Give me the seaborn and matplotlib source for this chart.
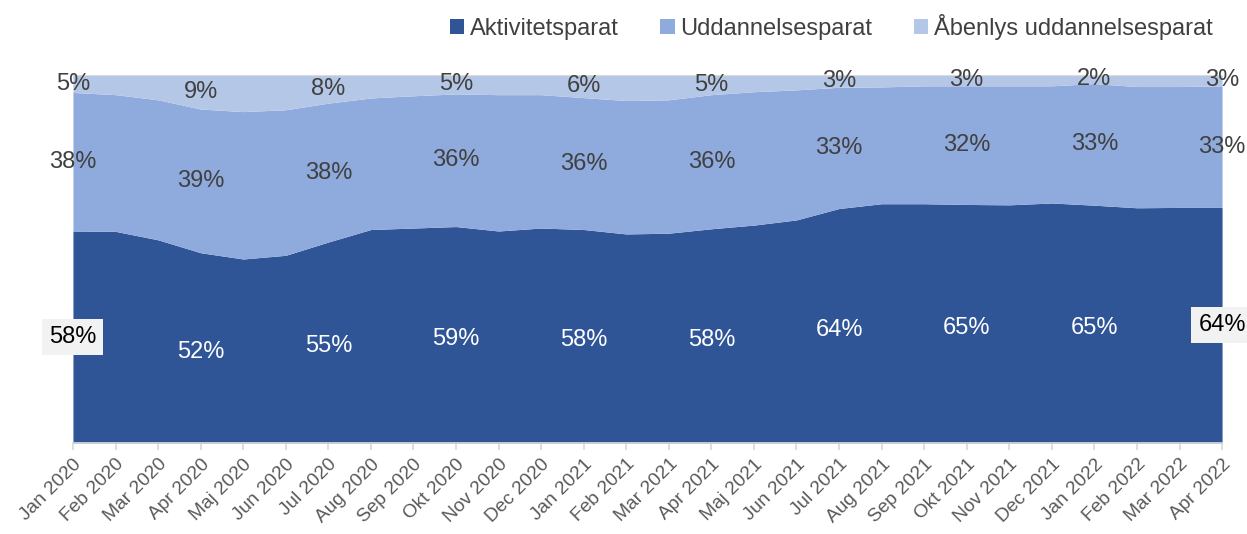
import numpy as np
import matplotlib.pyplot as plt
import seaborn as sns

months = ["Jan 2020", "Feb 2020", "Mar 2020", "Apr 2020", "Maj 2020", "Jun 2020",
          "Jul 2020", "Aug 2020", "Sep 2020", "Okt 2020", "Nov 2020", "Dec 2020",
          "Jan 2021", "Feb 2021", "Mar 2021", "Apr 2021", "Maj 2021", "Jun 2021",
          "Jul 2021", "Aug 2021", "Sep 2021", "Okt 2021", "Nov 2021", "Dec 2021",
          "Jan 2022", "Feb 2022", "Mar 2022", "Apr 2022"]

aktivitet = [57.6, 57.5, 55.2, 51.7, 50.0, 51.0, 54.6, 58.0, 58.4, 58.8, 57.6, 58.4,
             58.0, 56.8, 57.0, 58.2, 59.2, 60.6, 63.7, 65.0, 65.0, 64.8, 64.7, 65.2,
             64.6, 63.9, 64.0, 64.0]
uddannelse = [37.6, 37.1, 38.0, 39.0, 40.0, 39.5, 37.7, 35.7, 35.9, 36.0, 37.0, 36.2,
              35.8, 36.2, 36.2, 36.4, 36.2, 35.3, 32.9, 31.7, 32.0, 32.2, 32.3, 31.8,
              33.0, 32.9, 32.8, 33.0]
aabenlys = [4.8, 5.4, 6.8, 9.3, 10.0, 9.5, 7.7, 6.3, 5.7, 5.2, 5.4, 5.4,
            6.2, 7.0, 6.8, 5.4, 4.6, 4.1, 3.4, 3.3, 3.0, 3.0, 3.0, 3.0,
            2.4, 3.2, 3.2, 3.0]

series = ["Aktivitetsparat", "Uddannelsesparat", "Åbenlys uddannelsesparat"]
colors = ["#2F5597", "#8FAADC", "#B4C7E7"]
label_idx = [0, 3, 6, 9, 12, 15, 18, 21, 24, 27]

sns.set_theme(style="white")
plt.rcParams["font.family"] = ["Liberation Sans", "DejaVu Sans"]

fig, ax = plt.subplots(figsize=(12.47, 5.34), dpi=100)
fig.subplots_adjust(left=0.0585, right=0.98, top=0.86, bottom=0.17)

x = np.arange(len(months))
a = np.array(aktivitet) / 100
u = np.array(uddannelse) / 100
b = np.array(aabenlys) / 100
ax.stackplot(x, a, u, b, colors=colors, labels=series, linewidth=0)

fs = 17
# data labels
for i in label_idx:
    txt = f"{round(aktivitet[i])}%"
    if i in (0, len(months) - 1):
        ax.text(x[i], a[i] / 2, txt, ha="center", va="center", fontsize=fs,
                color="black", bbox=dict(facecolor="#F2F2F2", edgecolor="none", pad=5))
    else:
        ax.text(x[i], a[i] / 2 - 0.01, txt, ha="center", va="center", fontsize=fs, color="white")
    ax.text(x[i], a[i] + u[i] / 2, f"{round(uddannelse[i])}%", ha="center", va="center",
            fontsize=fs, color="#404040")
    ax.text(x[i], a[i] + u[i] + b[i] / 2, f"{round(aabenlys[i])}%", ha="center", va="center",
            fontsize=fs, color="#404040")

ax.axhline(1.0, color="#D9D9D9", linewidth=1)
ax.set_xlim(0, len(months) - 1)
ax.set_ylim(0, 1)
ax.set_yticks([])
ax.set_xticks(x)
ax.set_xticklabels(months, rotation=45, ha="right", rotation_mode="anchor",
                   fontsize=13.8, color="#595959")
ax.tick_params(axis="x", length=5, color="#D9D9D9", bottom=True, pad=4)
for s in ["top", "right", "left"]:
    ax.spines[s].set_visible(False)
ax.spines["bottom"].set_color("#D9D9D9")

ax.legend(loc="upper right", bbox_to_anchor=(1.0, 1.19), ncol=3, frameon=False,
          fontsize=17, handlelength=0.6, handleheight=0.6, handletextpad=0.25,
          columnspacing=1.75, labelcolor="#404040", borderaxespad=0)

fig.savefig("out.png", dpi=100)
